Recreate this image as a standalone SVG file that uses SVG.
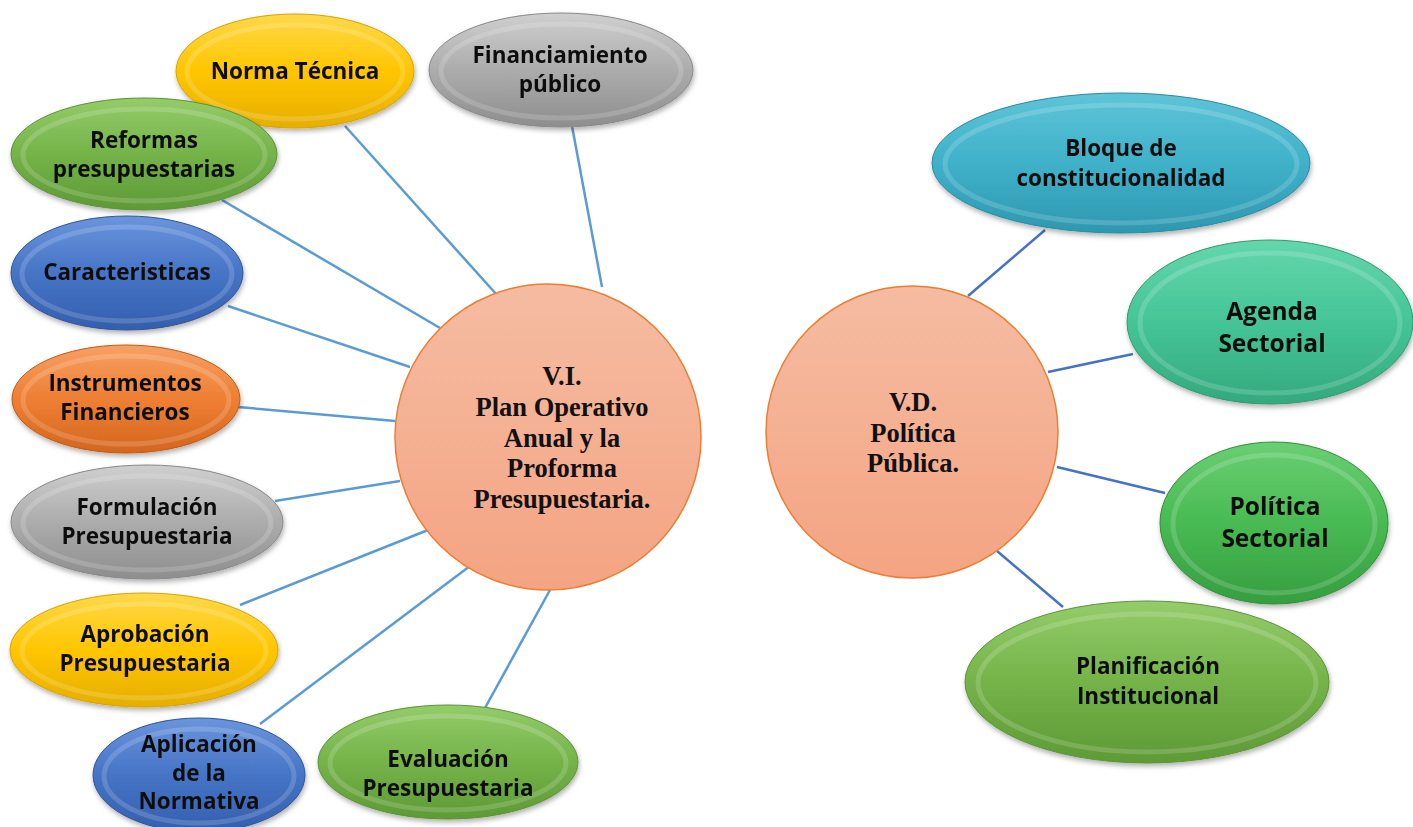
<svg xmlns="http://www.w3.org/2000/svg" width="1413" height="827" viewBox="0 0 1413 827">
<defs>
<style>
.lbl{font-family:"Open Sans","Noto Sans","Liberation Sans",sans-serif;font-weight:bold;font-size:22.5px;fill:#111;text-anchor:middle}
.big{font-size:24.5px}
.ctr{font-family:"Liberation Serif","Times New Roman",serif;font-weight:bold;font-size:26.5px;fill:#111;text-anchor:middle}
.c1{stroke:#5B9BD5;stroke-width:2.5;fill:none}
.c2{stroke:#4472C4;stroke-width:2.5;fill:none}
.bev{fill:none;stroke:#fff;stroke-opacity:0.16;stroke-width:5}
.hub{stroke:#ED7D31;stroke-width:1.5;fill:url(#gHub)}
</style>
<filter id="sh" x="-10%" y="-10%" width="120%" height="130%"><feDropShadow dx="1" dy="3" stdDeviation="2.5" flood-color="#000" flood-opacity="0.3"/></filter>
<linearGradient id="gHub" x1="0" y1="0" x2="0" y2="1"><stop offset="0" stop-color="#F5BCA2"/><stop offset="1" stop-color="#F4A482"/></linearGradient>
<linearGradient id="gY" x1="0" y1="0" x2="0" y2="1"><stop offset="0" stop-color="#FFD84A"/><stop offset="0.5" stop-color="#FFC600"/><stop offset="1" stop-color="#E6AE00"/></linearGradient>
<linearGradient id="gG" x1="0" y1="0" x2="0" y2="1"><stop offset="0" stop-color="#CFCFCF"/><stop offset="0.5" stop-color="#ACACAC"/><stop offset="1" stop-color="#8E8E8E"/></linearGradient>
<linearGradient id="gGr" x1="0" y1="0" x2="0" y2="1"><stop offset="0" stop-color="#94CC6A"/><stop offset="0.5" stop-color="#75B349"/><stop offset="1" stop-color="#5E9A36"/></linearGradient>
<linearGradient id="gB" x1="0" y1="0" x2="0" y2="1"><stop offset="0" stop-color="#6A95DD"/><stop offset="0.5" stop-color="#4674C6"/><stop offset="1" stop-color="#345FAE"/></linearGradient>
<linearGradient id="gO" x1="0" y1="0" x2="0" y2="1"><stop offset="0" stop-color="#F7A064"/><stop offset="0.5" stop-color="#EE7F33"/><stop offset="1" stop-color="#D4661E"/></linearGradient>
<linearGradient id="gT" x1="0" y1="0" x2="0" y2="1"><stop offset="0" stop-color="#5EC4D8"/><stop offset="0.5" stop-color="#3FB1C9"/><stop offset="1" stop-color="#2E98B0"/></linearGradient>
<linearGradient id="gA" x1="0" y1="0" x2="0" y2="1"><stop offset="0" stop-color="#64D6AC"/><stop offset="0.5" stop-color="#45C597"/><stop offset="1" stop-color="#34A97E"/></linearGradient>
<linearGradient id="gP" x1="0" y1="0" x2="0" y2="1"><stop offset="0" stop-color="#6ACF72"/><stop offset="0.5" stop-color="#48BA53"/><stop offset="1" stop-color="#369E40"/></linearGradient>
</defs>
<rect width="1413" height="827" fill="#fff"/>

<g id="connectors">
<line class="c1" x1="345" y1="126" x2="497" y2="295"/>
<line class="c1" x1="572" y1="126" x2="602" y2="287"/>
<line class="c1" x1="222" y1="200" x2="440" y2="328"/>
<line class="c1" x1="228" y1="306" x2="410" y2="367"/>
<line class="c1" x1="238" y1="407" x2="395" y2="421"/>
<line class="c1" x1="275" y1="501" x2="400" y2="481"/>
<line class="c1" x1="240" y1="605" x2="428" y2="530"/>
<line class="c1" x1="260" y1="724" x2="470" y2="566"/>
<line class="c1" x1="480" y1="717" x2="550" y2="590"/>
<line class="c2" x1="1045" y1="230" x2="968" y2="296"/>
<line class="c2" x1="1133" y1="354" x2="1048" y2="372"/>
<line class="c2" x1="1165" y1="493" x2="1057" y2="467"/>
<line class="c2" x1="1063" y1="607" x2="997" y2="551"/>
</g>

<g id="vi">
<circle class="hub" cx="548" cy="437" r="153"/>
<text class="ctr" x="562" y="385">V.I.</text>
<text class="ctr" x="562" y="416">Plan Operativo</text>
<text class="ctr" x="562" y="447">Anual y la</text>
<text class="ctr" x="562" y="477">Proforma</text>
<text class="ctr" x="562" y="508">Presupuestaria.</text>
</g>

<g id="vd">
<circle class="hub" cx="912" cy="432" r="146"/>
<text class="ctr" x="913" y="411">V.D.</text>
<text class="ctr" x="913" y="442">Política</text>
<text class="ctr" x="913" y="472">Pública.</text>
</g>

<g id="norma" filter="url(#sh)">
<ellipse cx="295" cy="71" rx="119" ry="57" fill="url(#gY)" stroke="#D9A300" stroke-width="1"/>
<ellipse class="bev" cx="295" cy="72" rx="108" ry="47"/>
<text class="lbl" x="295" y="79">Norma Técnica</text>
</g>

<g id="financiamiento" filter="url(#sh)">
<ellipse cx="561" cy="70" rx="132" ry="57" fill="url(#gG)" stroke="#888" stroke-width="1"/>
<ellipse class="bev" cx="561" cy="71" rx="120" ry="47"/>
<text class="lbl" x="560" y="63">Financiamiento</text>
<text class="lbl" x="560" y="92">público</text>
</g>

<g id="reformas" filter="url(#sh)">
<ellipse cx="144" cy="154" rx="133" ry="56" fill="url(#gGr)" stroke="#5B9335" stroke-width="1"/>
<ellipse class="bev" cx="144" cy="155" rx="121" ry="46"/>
<text class="lbl" x="144" y="148">Reformas</text>
<text class="lbl" x="144" y="177">presupuestarias</text>
</g>

<g id="caracteristicas" filter="url(#sh)">
<ellipse cx="127" cy="273" rx="116" ry="57" fill="url(#gB)" stroke="#2F5597" stroke-width="1"/>
<ellipse class="bev" cx="127" cy="274" rx="105" ry="47"/>
<text class="lbl" x="127" y="280">Caracteristicas</text>
</g>

<g id="instrumentos" filter="url(#sh)">
<ellipse cx="126" cy="399" rx="114" ry="54" fill="url(#gO)" stroke="#C55A11" stroke-width="1"/>
<ellipse class="bev" cx="126" cy="400" rx="103" ry="44"/>
<text class="lbl" x="125" y="391">Instrumentos</text>
<text class="lbl" x="125" y="420">Financieros</text>
</g>

<g id="formulacion" filter="url(#sh)">
<ellipse cx="147" cy="522" rx="136" ry="57" fill="url(#gG)" stroke="#888" stroke-width="1"/>
<ellipse class="bev" cx="147" cy="523" rx="124" ry="47"/>
<text class="lbl" x="147" y="515">Formulación</text>
<text class="lbl" x="147" y="544">Presupuestaria</text>
</g>

<g id="aprobacion" filter="url(#sh)">
<ellipse cx="144" cy="650" rx="134" ry="57" fill="url(#gY)" stroke="#D9A300" stroke-width="1"/>
<ellipse class="bev" cx="144" cy="651" rx="122" ry="47"/>
<text class="lbl" x="145" y="642">Aprobación</text>
<text class="lbl" x="145" y="671">Presupuestaria</text>
</g>

<g id="aplicacion" filter="url(#sh)">
<ellipse cx="199" cy="775" rx="106" ry="57" fill="url(#gB)" stroke="#2F5597" stroke-width="1"/>
<ellipse class="bev" cx="199" cy="776" rx="95" ry="47"/>
<text class="lbl" x="199" y="752">Aplicación</text>
<text class="lbl" x="199" y="781">de la</text>
<text class="lbl" x="199" y="809">Normativa</text>
</g>

<g id="evaluacion" filter="url(#sh)">
<ellipse cx="448" cy="762" rx="130" ry="57" fill="url(#gGr)" stroke="#5B9335" stroke-width="1"/>
<ellipse class="bev" cx="448" cy="763" rx="118" ry="47"/>
<text class="lbl" x="448" y="767">Evaluación</text>
<text class="lbl" x="448" y="796">Presupuestaria</text>
</g>

<g id="bloque" filter="url(#sh)">
<ellipse cx="1121" cy="163" rx="189" ry="70" fill="url(#gT)" stroke="#2A8AA3" stroke-width="1"/>
<ellipse class="bev" cx="1121" cy="164" rx="176" ry="59"/>
<text class="lbl" x="1121" y="156">Bloque de</text>
<text class="lbl" x="1121" y="186">constitucionalidad</text>
</g>

<g id="agenda" filter="url(#sh)">
<ellipse cx="1270" cy="322" rx="143" ry="82" fill="url(#gA)" stroke="#2E9A72" stroke-width="1"/>
<ellipse class="bev" cx="1270" cy="323" rx="130" ry="70"/>
<text class="lbl big" x="1272" y="320">Agenda</text>
<text class="lbl big" x="1272" y="352">Sectorial</text>
</g>

<g id="politica" filter="url(#sh)">
<ellipse cx="1274" cy="523" rx="114" ry="81" fill="url(#gP)" stroke="#2F8F38" stroke-width="1"/>
<ellipse class="bev" cx="1274" cy="524" rx="101" ry="69"/>
<text class="lbl big" x="1275" y="515">Política</text>
<text class="lbl big" x="1275" y="547">Sectorial</text>
</g>

<g id="planificacion" filter="url(#sh)">
<ellipse cx="1147" cy="682" rx="182" ry="81" fill="url(#gGr)" stroke="#5B9335" stroke-width="1"/>
<ellipse class="bev" cx="1147" cy="683" rx="169" ry="69"/>
<text class="lbl" x="1148" y="674">Planificación</text>
<text class="lbl" x="1148" y="704">Institucional</text>
</g>
</svg>
